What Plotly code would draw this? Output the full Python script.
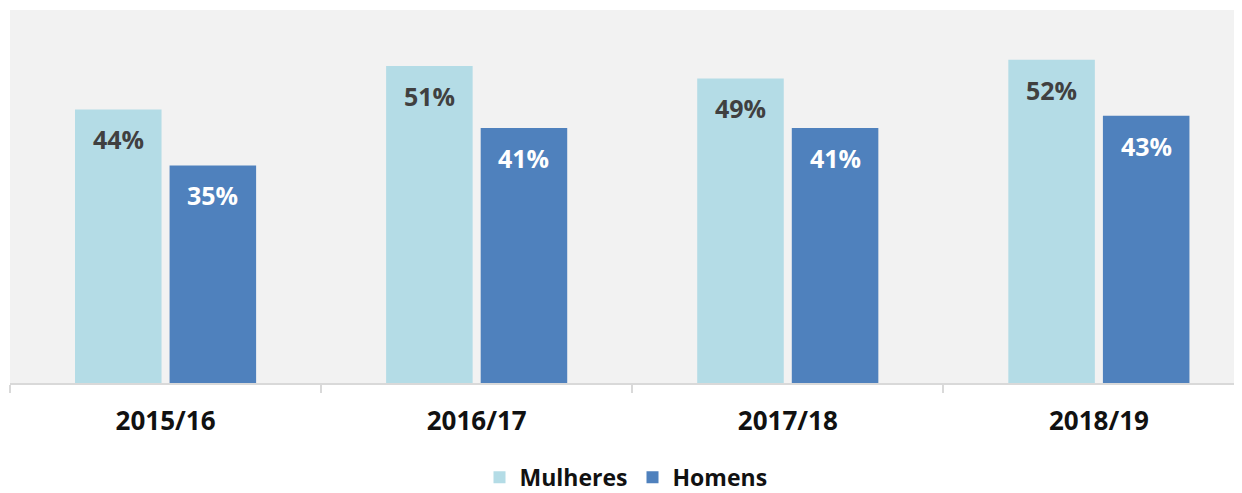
import plotly.graph_objects as go

categories = ["2015/16", "2016/17", "2017/18", "2018/19"]
mulheres = [44, 51, 49, 52]
homens = [35, 41, 41, 43]
series_names = ["Mulheres", "Homens"]

C_M = "#B4DCE6"
C_H = "#4F81BD"
FONT = "Open Sans"

fig = go.Figure()
fig.add_trace(go.Bar(name=series_names[0], x=categories, y=mulheres, marker_color=C_M,
                     marker_line_width=0, hoverinfo="skip"))
fig.add_trace(go.Bar(name=series_names[1], x=categories, y=homens, marker_color=C_H,
                     marker_line_width=0, hoverinfo="skip"))

# value labels inside bars, near top
w = 0.304
for i, c in enumerate(categories):
    for vals, off, col in ((mulheres, -1, "#404040"), (homens, 1, "white")):
        fig.add_annotation(x=i + off * w / 2, y=vals[i], xref="x", yref="y",
                           text=f"{vals[i]}%", showarrow=False, yshift=-30,
                           font=dict(family=FONT, size=25, color=col, weight="bold"))

fig.update_layout(
    width=1234, height=485,
    margin=dict(l=2, r=0, t=2, b=110, autoexpand=False),
    paper_bgcolor="white", plot_bgcolor="#F2F2F2",
    barmode="group", bargap=0.392, bargroupgap=0.085,
    showlegend=True,
    legend=dict(orientation="h", x=0.5, xanchor="center", y=-0.253, yanchor="middle",
                font=dict(family=FONT, size=23, color="#111111", weight="bold"),
                itemsizing="constant", traceorder="normal"),
    font=dict(family=FONT),
)
fig.update_xaxes(type="category", range=[-0.5, 3.46], showline=True, linecolor="#D9D9D9",
                 linewidth=2, ticks="outside", tickson="boundaries", ticklen=8,
                 tickcolor="#D9D9D9", tickwidth=2, showgrid=False, ticklabelstandoff=14,
                 automargin=False,
                 tickfont=dict(family=FONT, size=26, color="#111111", weight="bold"))
fig.update_yaxes(range=[0, 60], showticklabels=False, showgrid=False, zeroline=False,
                 showline=False, ticks="", automargin=False)

fig.write_html("out.html")
